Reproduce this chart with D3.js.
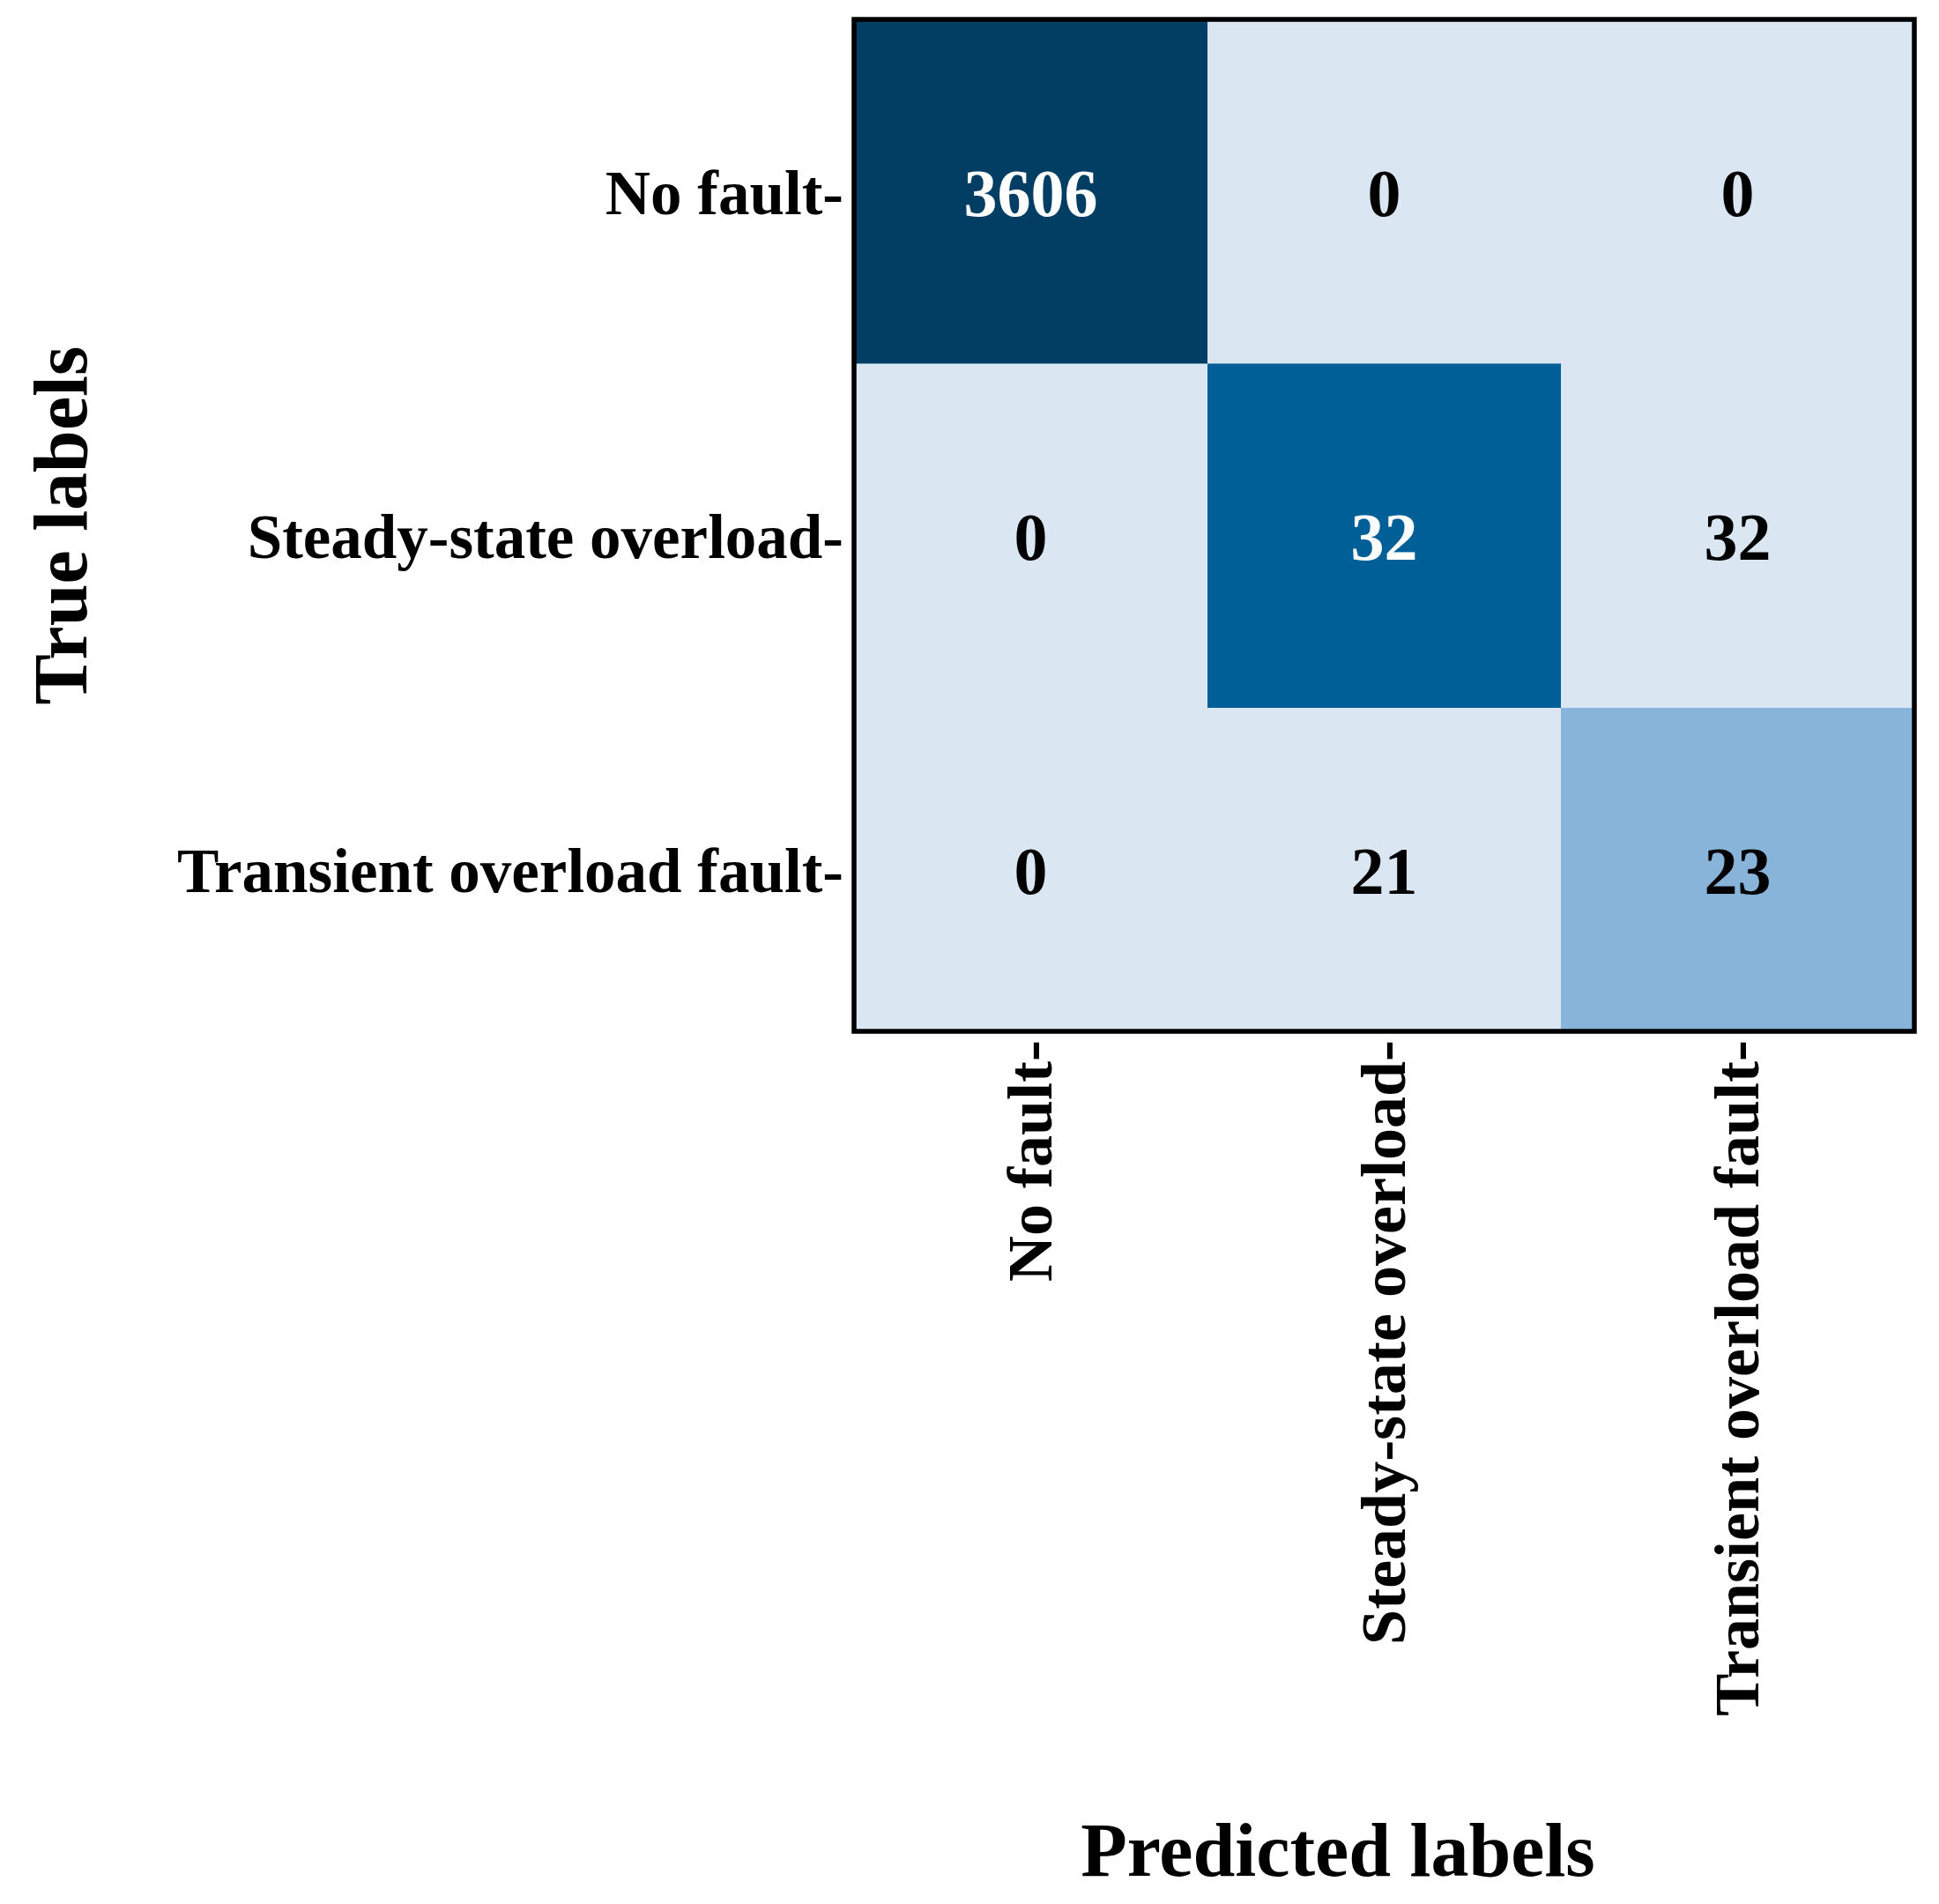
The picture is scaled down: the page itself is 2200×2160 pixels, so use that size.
<!DOCTYPE html>
<html>
<head>
<meta charset="utf-8">
<script src="https://cdn.jsdelivr.net/npm/d3@7"></script>
<style>
  body { margin: 0; background: #fff; }
  text { font-family: 'Liberation Serif', 'Times New Roman', serif; font-weight: bold; }
</style>
</head>
<body>
<div class="chart"></div>
<script>
const trueLabels = ['No fault', 'Steady-state overload', 'Transient overload fault'];
const predictedLabels = ['No fault', 'Steady-state overload', 'Transient overload fault'];
const counts = [
  [3606, 0, 0],
  [0, 32, 32],
  [0, 21, 23]
];

function drawMatrix() {

  const width = 2200;
  const height = 2160;
  const frame = {left: 969, right: 2172, top: 22, bottom: 1170};
  const rowStep = 390.5;
  const offColor = '#dae7f2';

  const svg = d3.select('.chart')
                .append('svg:svg')
                .attr('width', width)
                .attr('height', height)
                .attr('viewBox', [0, 0, width, height]);

  const x = d3.scaleBand()
              .domain(d3.range(predictedLabels.length))
              .range([frame.left, frame.right]);

  // last row runs past the frame and gets clipped, like in the original
  const y = d3.scaleBand()
              .domain(d3.range(trueLabels.length))
              .range([frame.top, frame.top + rowStep * trueLabels.length]);

  // centre of the visible part of a row
  const yMid = i => (Math.max(y(i), frame.top) + Math.min(y(i) + y.bandwidth(), frame.bottom)) / 2;

  const color = d3.scaleLog()
                  .domain([23, 32, 3606])
                  .range(['#89b4d9', '#005f96', '#023e63']);

  const cells = counts.flatMap((row, i) => row.map((v, j) => ({i, j, v})));
  const fill = d => d.i === d.j ? color(d.v) : offColor;

  svg.append('defs')
     .append('clipPath')
     .attr('id', 'plot')
     .append('rect')
     .attr('x', frame.left)
     .attr('y', frame.top)
     .attr('width', frame.right - frame.left)
     .attr('height', frame.bottom - frame.top);

  const plot = svg.append('svg:g')
                  .attr('clip-path', 'url(#plot)');

  plot.selectAll('rect')
      .data(cells)
      .enter().append('svg:rect')
      .attr('x', d => x(d.j))
      .attr('y', d => y(d.i))
      .attr('width', x.bandwidth() + 0.5)
      .attr('height', y.bandwidth() + 0.5)
      .attr('fill', fill);

  plot.selectAll('text')
      .data(cells)
      .enter().append('svg:text')
      .attr('x', d => x(d.j) + x.bandwidth() / 2)
      .attr('y', d => yMid(d.i))
      .attr('dy', '0.36em')
      .attr('text-anchor', 'middle')
      .attr('font-size', 76)
      .attr('fill', d => d3.hsl(fill(d)).l < 0.4 ? '#fff' : '#000')
      .text(d => d.v);

  svg.append('svg:rect')
     .attr('x', frame.left)
     .attr('y', frame.top)
     .attr('width', frame.right - frame.left)
     .attr('height', frame.bottom - frame.top)
     .attr('fill', 'none')
     .attr('stroke', '#000')
     .attr('stroke-width', 5.5);

  // tick labels (the trailing dash is part of the label in the source figure)
  svg.append('svg:g')
     .selectAll('text')
     .data(trueLabels)
     .enter().append('svg:text')
     .attr('x', frame.left - 12)
     .attr('y', (d, i) => yMid(i))
     .attr('dy', '0.36em')
     .attr('text-anchor', 'end')
     .attr('font-size', 71)
     .text(d => d + '-');

  svg.append('svg:g')
     .selectAll('text')
     .data(predictedLabels)
     .enter().append('svg:text')
     .attr('transform', (d, i) => `translate(${x(i) + x.bandwidth() / 2},${frame.bottom + 10}) rotate(-90)`)
     .attr('dy', '0.33em')
     .attr('text-anchor', 'end')
     .attr('font-size', 72)
     .text(d => d + '-');

  svg.append('svg:text')
     .attr('transform', `translate(98,${(frame.top + frame.bottom) / 2}) rotate(-90)`)
     .attr('text-anchor', 'middle')
     .attr('font-size', 86)
     .text('True labels');

  svg.append('svg:text')
     .attr('x', 1518)
     .attr('y', 2128)
     .attr('text-anchor', 'middle')
     .attr('font-size', 86)
     .text('Predicted labels');
}

drawMatrix();
</script>
</body>
</html>
